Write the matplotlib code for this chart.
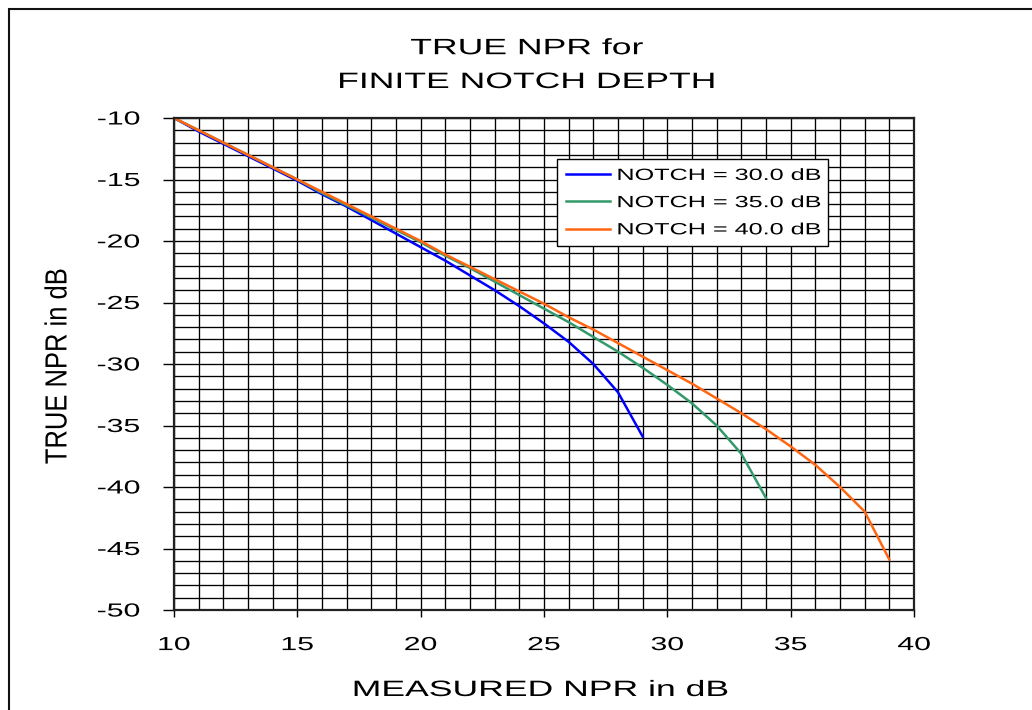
import matplotlib
matplotlib.use("Agg")
import matplotlib.pyplot as plt
import matplotlib.patheffects as pe
from matplotlib.transforms import Affine2D
from matplotlib.ticker import MultipleLocator
from matplotlib.patches import Rectangle

# ---------------- data ----------------
measured_npr_30 = list(range(10, 30))
measured_npr_35 = list(range(10, 35))
measured_npr_40 = list(range(10, 40))
true_npr_30 = [-10.0, -11.1, -12.1, -13.1, -14.1, -15.1, -16.2, -17.2, -18.3, -19.4,
               -20.5, -21.6, -22.8, -24.0, -25.3, -26.7, -28.2, -30.0, -32.3, -35.9]
true_npr_35 = [-10.0, -11.0, -12.0, -13.0, -14.0, -15.0, -16.1, -17.1, -18.1, -19.1,
               -20.1, -21.2, -22.2, -23.3, -24.4, -25.5, -26.6, -27.8, -29.0, -30.3,
               -31.7, -33.2, -35.0, -37.3, -40.9]
true_npr_40 = [-10.0, -11.0, -12.0, -13.0, -14.0, -15.0, -16.0, -17.0, -18.0, -19.0,
               -20.0, -21.1, -22.1, -23.1, -24.1, -25.1, -26.2, -27.2, -28.3, -29.4,
               -30.5, -31.6, -32.8, -34.0, -35.3, -36.7, -38.2, -40.0, -42.0, -45.9]
notch_depths = [30.0, 35.0, 40.0]
series_colors = ["#0000FF", "#33996B", "#FF6611"]
x_ticks = [10, 15, 20, 25, 30, 35, 40]
y_ticks = [-50, -45, -40, -35, -30, -25, -20, -15, -10]
title_text = "TRUE NPR for\nFINITE NOTCH DEPTH"
x_label = "MEASURED NPR in dB"
y_label = "TRUE NPR in dB"

plt.rcParams["font.family"] = ["Liberation Sans", "DejaVu Sans"]
plt.rcParams["axes.unicode_minus"] = False


class Stretch(pe.AbstractPathEffect):
    """Render text wider (the reference uses widely spaced lettering)."""

    def __init__(self, sx=1.0, sy=1.0, anchor="center"):
        super().__init__()
        self.sx, self.sy, self.anchor = sx, sy, anchor

    def draw_path(self, renderer, gc, tpath, affine, rgbFace=None):
        ext = tpath.get_extents()
        if self.anchor == "left":
            cx = ext.x0
        elif self.anchor == "right":
            cx = ext.x1
        else:
            cx = 0.5 * (ext.x0 + ext.x1)
        cy = 0.5 * (ext.y0 + ext.y1)
        tr = Affine2D().translate(-cx, -cy).scale(self.sx, self.sy).translate(cx, cy) + affine
        renderer.draw_path(gc, tpath, Affine2D(tr.get_matrix()), rgbFace)


W, H = 1032, 710
fig = plt.figure(figsize=(W / 100, H / 100), dpi=100, facecolor="white")

# outer frame (right/bottom edges lie outside the picture)
fig.add_artist(Rectangle((8.5 / W, -0.2), 1.2, 1.2 - 8.5 / H, transform=fig.transFigure,
                         fill=False, edgecolor="#111111", linewidth=1.5))

ax = fig.add_axes([174 / W, 100 / H, 740 / W, 492 / H])

series_x = [measured_npr_30, measured_npr_35, measured_npr_40]
series_y = [true_npr_30, true_npr_35, true_npr_40]
handles = []
for xs, ys, c, n in zip(series_x, series_y, series_colors, notch_depths):
    h, = ax.plot(xs, ys, color=c, linewidth=1.8, solid_joinstyle="round",
                 label=f"NOTCH = {n:.1f} dB")
    handles.append(h)

ax.set_xlim(10, 40)
ax.set_ylim(-50, -10)
ax.set_xticks(x_ticks, [str(v) for v in x_ticks])
ax.set_yticks(y_ticks, [str(v) for v in y_ticks])
ax.xaxis.set_minor_locator(MultipleLocator(1))
ax.yaxis.set_minor_locator(MultipleLocator(1))
ax.set_axisbelow(True)
ax.grid(which="both", color="black", linewidth=0.95)
ax.tick_params(which="minor", length=0)
ax.tick_params(axis="x", which="major", direction="out", length=5, width=1.0,
               color="black", pad=14.5, labelsize=13.6, labelcolor="black")
ax.tick_params(axis="y", which="major", direction="out", length=8, width=1.0,
               color="black", pad=16.5, labelsize=13.6, labelcolor="black")
for s in ax.spines.values():
    s.set_linewidth(1.6)
    s.set_color("#222222")

for t in ax.get_xticklabels():
    t.set_path_effects([Stretch(1.6, 1.0, "center")])
for t in ax.get_yticklabels():
    t.set_path_effects([Stretch(1.6, 1.0, "right")])

# title (va="baseline" aligns the last line's baseline)
fig.text(527 / W, 1 - 88 / H, title_text, ha="center", va="baseline",
         multialignment="center", fontsize=16, linespacing=1.8,
         path_effects=[Stretch(1.6, 1.0, "center")])

# axis labels
ax.set_xlabel(x_label, fontsize=16, path_effects=[Stretch(1.6, 1.0, "center")])
ax.xaxis.set_label_coords((541 - 174) / 740, (610 - 680) / 492)
ax.set_ylabel(y_label, fontsize=16, va="center",
              path_effects=[Stretch(1.15, 1.375, "center")])
ax.yaxis.set_label_coords((58 - 174) / 740, (610 - 366) / 492)

# legend
leg = ax.legend(handles=handles, loc="upper left",
                bbox_to_anchor=(557 / W, 1 - 247 / H, 271 / W, 88 / H),
                bbox_transform=fig.transFigure, mode="expand", borderaxespad=0,
                borderpad=0.55, labelspacing=0.75, handlelength=2.7,
                handletextpad=0.45, fontsize=11.7, frameon=True, fancybox=False,
                edgecolor="black", framealpha=1.0)
leg.get_frame().set_linewidth(1.0)
for t in leg.get_texts():
    t.set_path_effects([Stretch(1.55, 1.0, "left")])

fig.savefig("out.png", dpi=100, facecolor="white")
